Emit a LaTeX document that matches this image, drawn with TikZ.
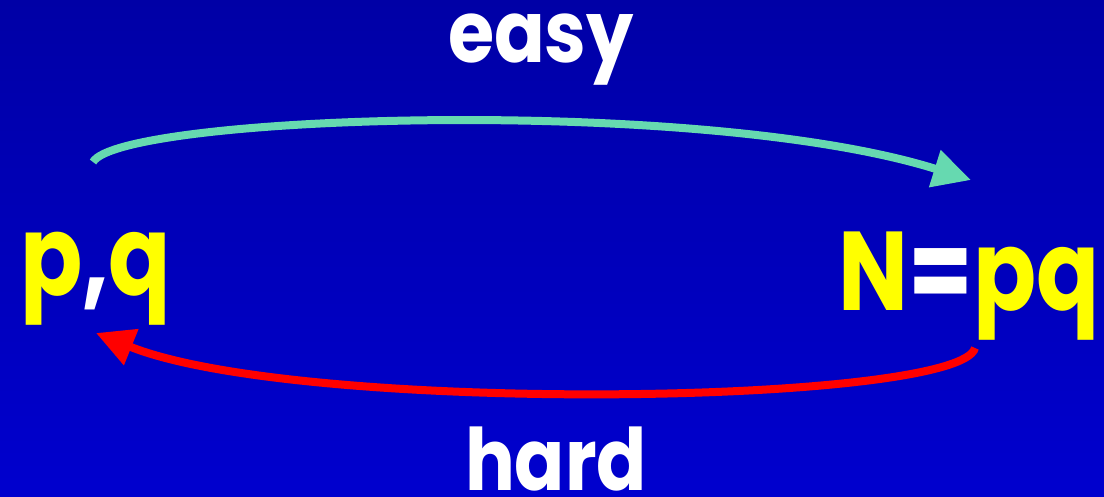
\documentclass[tikz,border=0pt]{standalone}
\usepackage{fontspec}
\setmainfont{Poppins}[BoldFont={* Bold}]
\usetikzlibrary{arrows.meta}
\definecolor{bgtop}{RGB}{0,0,166}
\definecolor{bgbot}{RGB}{0,0,206}
\definecolor{easyc}{RGB}{102,217,176}
\definecolor{hardc}{RGB}{255,0,0}
\definecolor{yel}{RGB}{255,255,0}
\tikzset{
  lbl/.style={font=\bfseries\fontsize{86}{86}\selectfont, text=white, inner sep=0pt, anchor=base},
  big/.style={font=\bfseries\fontsize{112}{112}\selectfont, text=yel, inner sep=0pt, anchor=base},
  arr/.style={line width=8pt, -{Triangle[length=38pt,width=37pt]}}
}
\begin{document}
\begin{tikzpicture}[x=1pt,y=-1pt]
\shade[top color=bgtop, bottom color=bgbot] (0,0) rectangle (1104,496);
\useasboundingbox (0,0) rectangle (1104,496);
\node[lbl] (easy) at (541,62) {\scalebox{0.87}[1]{easy}};
\node[lbl] (hard) at (556,490) {\scalebox{0.86}[1]{hard}};
\node[big, anchor=base west] (pq) at (20,295) {\scalebox{0.82}[1]{p\textcolor{white}{,}q}};
\node[big, anchor=base east] (N) at (1100,310) {\scalebox{0.83}[1]{N\textcolor{white}{=}pq}};
\coordinate (gs) at (93,162);
\coordinate (ge) at (971,180);
\coordinate (rs) at (975,348);
\coordinate (re) at (96,333);
\draw[arr, easyc] (gs) .. controls (120,115) and (700,95) .. (ge);
\draw[arr, hardc] (rs) .. controls (960,405) and (300,415) .. (re);
\end{tikzpicture}
\end{document}
